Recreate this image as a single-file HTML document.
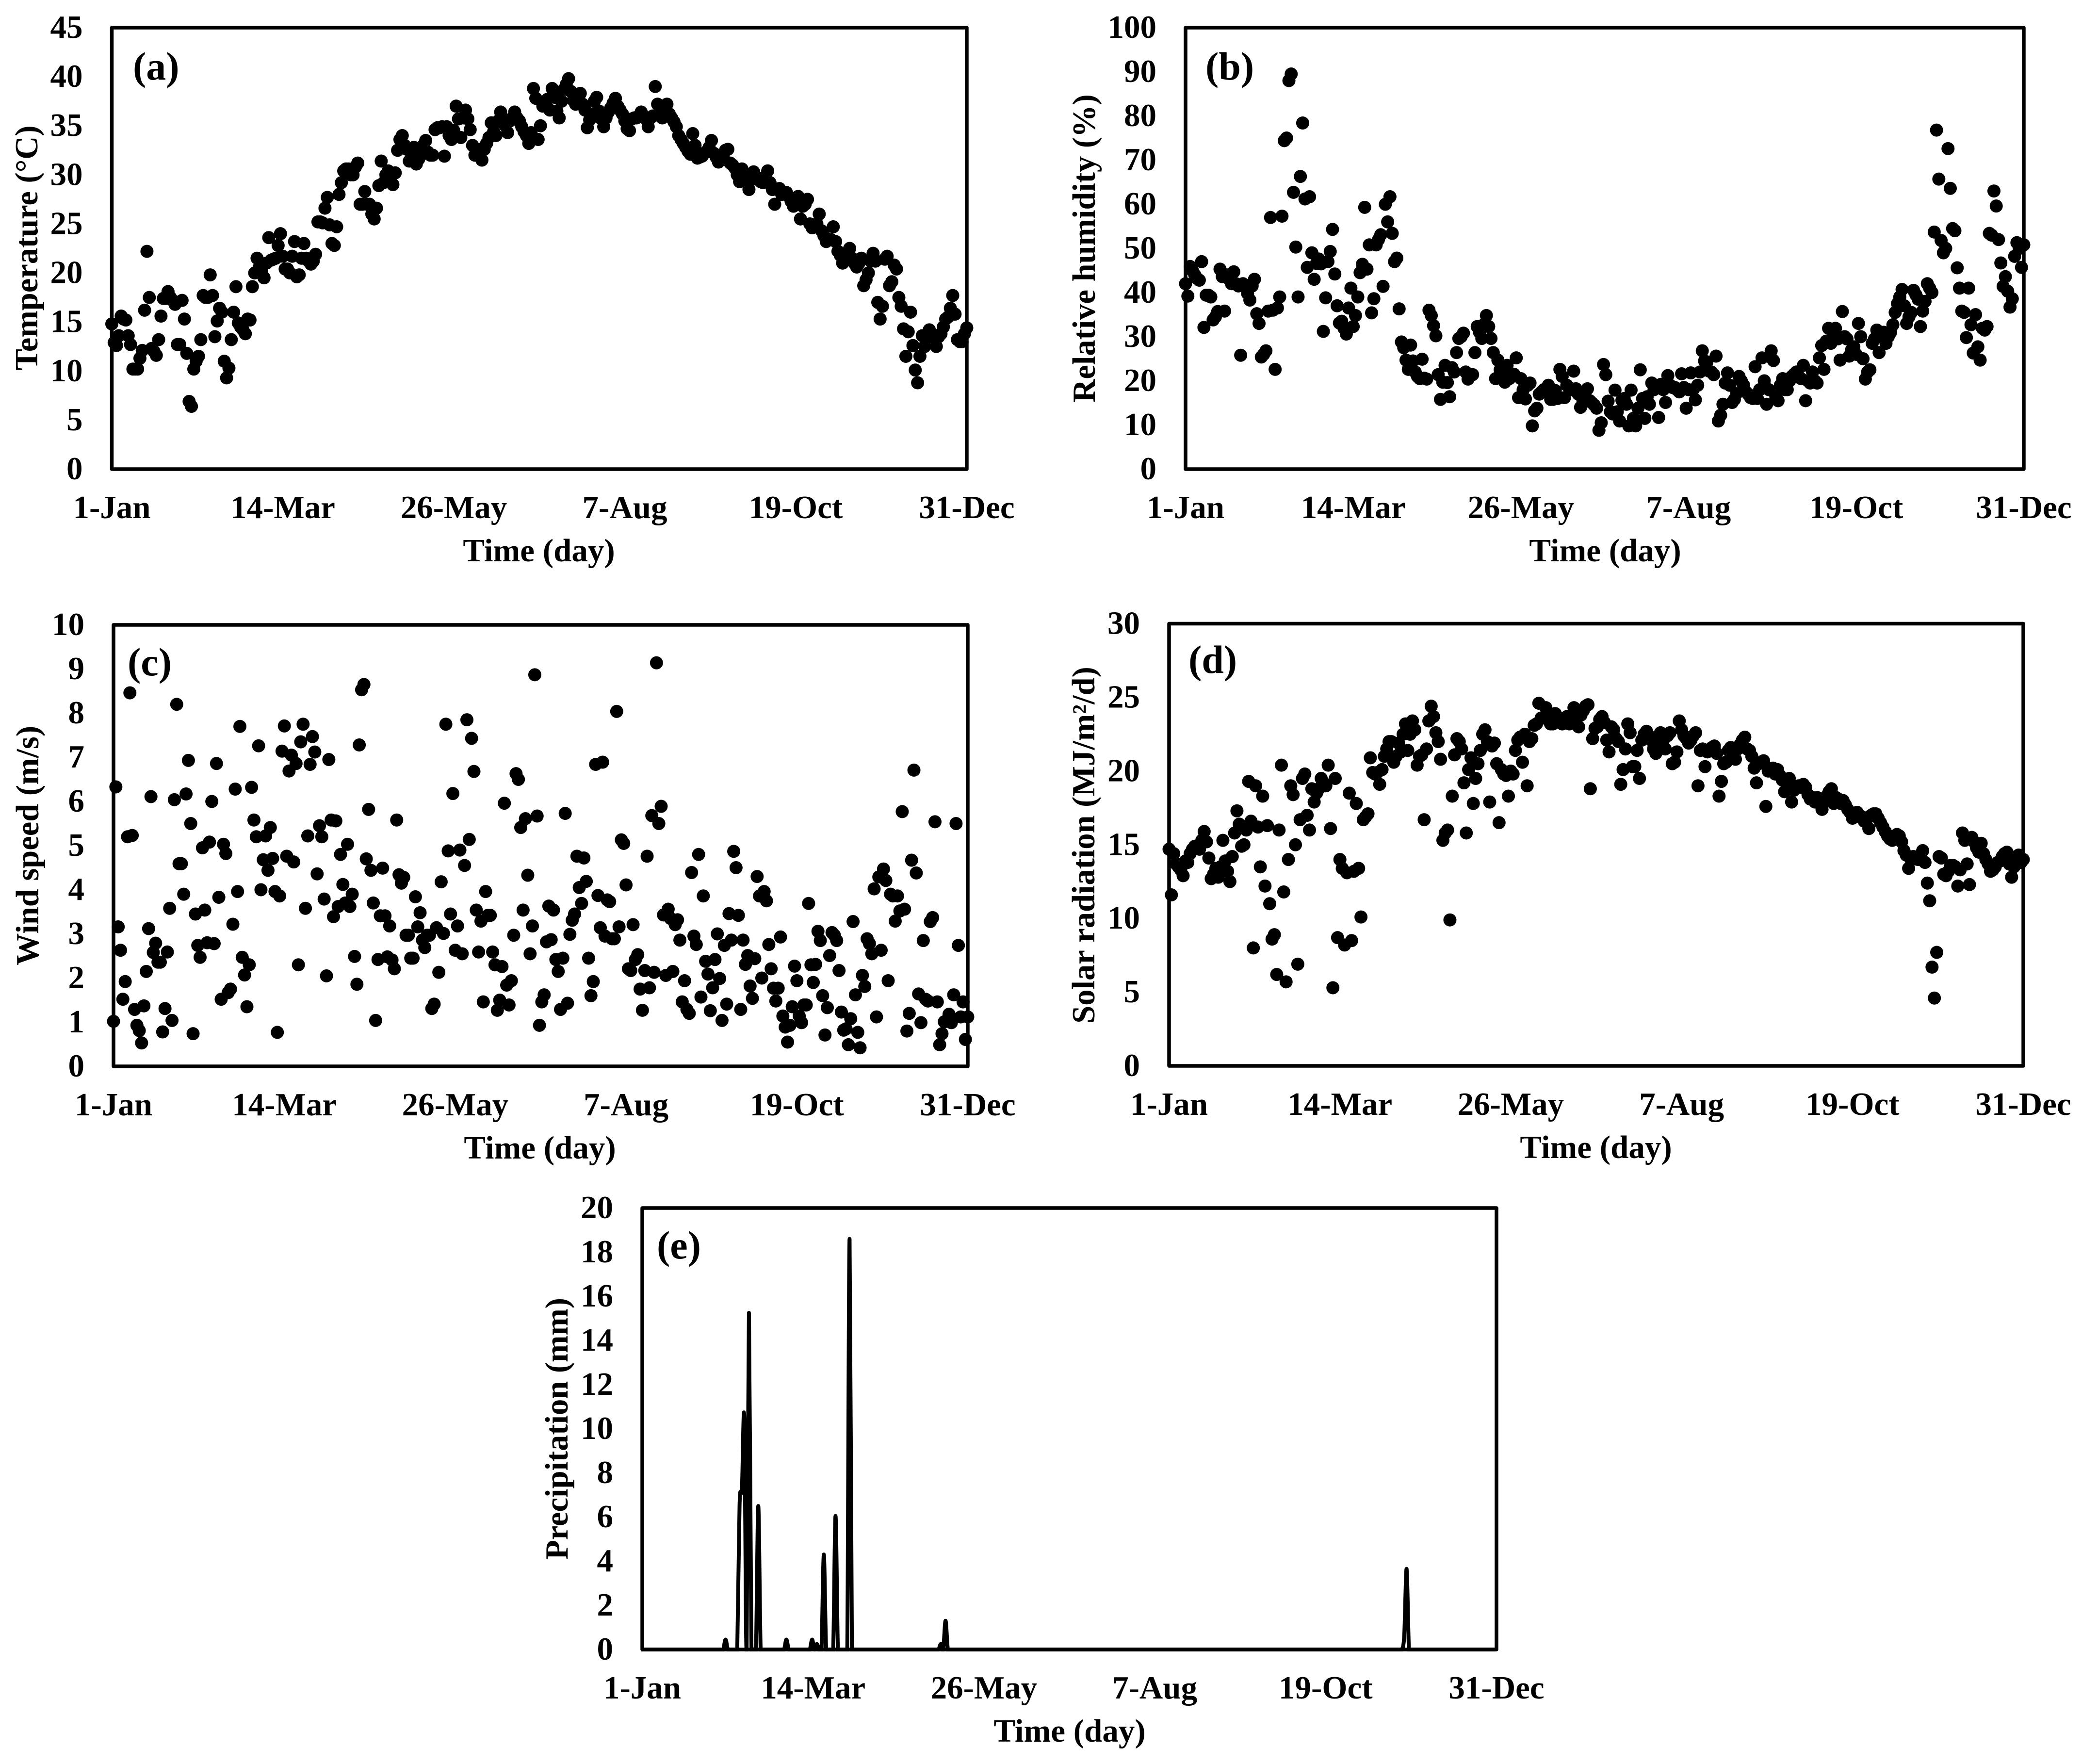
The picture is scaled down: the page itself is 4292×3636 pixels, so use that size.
<!DOCTYPE html>
<html lang="en">
<head>
<meta charset="utf-8">
<title>Daily weather charts</title>
<style>
html,body{margin:0;padding:0;background:#fff;}
svg{display:block;}
text{font-family:"Liberation Serif",serif;font-weight:bold;fill:#000;font-size:67px;}
.frame{fill:none;stroke:#000;stroke-width:7.5;stroke-linejoin:round;}
.panel-tag{font-size:82px;}
.x-title,.y-title,.x-tick{text-anchor:middle;}
.y-title{font-size:66.5px;}
.y-tick{text-anchor:end;}
</style>
</head>
<body>
<svg id="chart" xmlns="http://www.w3.org/2000/svg" width="4292" height="3636" viewBox="0 0 4292 3636">
  <rect x="0" y="0" width="4292" height="3636" fill="#fff"/>
  <defs>
    <clipPath id="precip-clip"><rect x="1320" y="2486" width="1769" height="918"/></clipPath>
  </defs>

  <g id="panel-a">
    <rect class="frame" x="230.5" y="57" width="1762.5" height="910"/>
    <text class="panel-tag" x="274" y="164">(a)</text>
    <text class="x-title" x="1111" y="1157">Time (day)</text>
    <text class="y-title" transform="translate(77 511) rotate(-90)">Temperature (°C)</text>
  </g>

  <g id="panel-b">
    <rect class="frame" x="2444" y="57" width="1728" height="910"/>
    <text class="panel-tag" x="2485" y="164">(b)</text>
    <text class="x-title" x="3309" y="1157">Time (day)</text>
    <text class="y-title" transform="translate(2257 512) rotate(-90)">Relative humidity (%)</text>
  </g>

  <g id="panel-c">
    <rect class="frame" x="234" y="1288" width="1761" height="910"/>
    <text class="panel-tag" x="263" y="1392">(c)</text>
    <text class="x-title" x="1113" y="2388">Time (day)</text>
    <text class="y-title" transform="translate(79 1743) rotate(-90)">Wind speed (m/s)</text>
  </g>

  <g id="panel-d">
    <rect class="frame" x="2410" y="1285.5" width="1761" height="911.5"/>
    <text class="panel-tag" x="2450" y="1387">(d)</text>
    <text class="x-title" x="3290" y="2387">Time (day)</text>
    <text class="y-title" transform="translate(2256 1742) rotate(-90)">Solar radiation (MJ/m²/d)</text>
  </g>

  <g id="panel-e">
    <rect class="frame" x="1324" y="2490" width="1761" height="910"/>
    <text class="panel-tag" x="1354" y="2594">(e)</text>
    <text class="x-title" x="2205" y="3590">Time (day)</text>
    <text class="y-title" transform="translate(1170 2945) rotate(-90)">Precipitation (mm)</text>
  </g>
</svg>

<script>
const dateLabels = ["1-Jan","14-Mar","26-May","7-Aug","19-Oct","31-Dec"];
const dateTickDays = [0,73,146,219,292,365];
const daysInAxis = 365;

const temperatureTicks = [0,5,10,15,20,25,30,35,40,45];
const humidityTicks = [0,10,20,30,40,50,60,70,80,90,100];
const windTicks = [0,1,2,3,4,5,6,7,8,9,10];
const solarTicks = [0,5,10,15,20,25,30];
const precipitationTicks = [0,2,4,6,8,10,12,14,16,18,20];

const temperatureValues = [
14.8,12.9,12.6,13.6,15.6,15.3,15.2,13.6,12.7,10.2,10.2,10.2,11.3,12.1,16.2,22.2,17.5,12.3,12.0,11.6,
13.2,15.6,17.4,17.4,18.1,17.5,17.2,16.8,12.7,12.7,17.2,15.3,11.8,6.9,6.4,10.2,11.0,11.5,13.2,17.7,
17.5,17.5,19.8,17.7,13.5,15.1,16.4,16.0,11,9.3,10.3,13.2,16,18.6,14.9,14.5,14.2,13.8,15.3,15.2,
18.6,20.0,21.5,20.6,20.3,19.5,21.0,23.6,21.3,21.4,21.5,22.8,24.0,21.7,20.4,20.4,20.0,21.7,23.2,19.6,
19.8,21.5,23.0,21.5,21.2,20.9,21.2,21.9,25.2,25.2,25.1,26.6,27.7,24.9,23,22.8,24.7,28,29.2,30.4,
30.6,30.6,30,30,30.8,31.2,27,27,28.3,27,27,26,25.5,26.6,28.9,31.4,29.2,30,30.4,29.6,
29,30.2,32.5,33.6,34,33,32.6,31.4,32.2,32.8,31.1,31.6,32,33,33.5,32.3,32,32,34.6,34.8,
34.8,34.9,31.9,34.9,34,33.6,34.5,37,35.7,33.8,35.8,36.6,35.7,34.6,33,32,32.2,32.6,31.5,32.6,
33.2,33.8,35.3,34.4,34,35.5,36.4,35.7,35,34.3,35.5,35.8,36.4,35.8,35.5,34.9,34.4,34,33.2,34.3,
38.8,37.8,33.6,35,37,37.4,37.7,36.6,38.8,37.9,36.5,35.8,37.5,38.7,39.2,39.8,38.5,37.6,37.2,37.6,
38.3,37.2,36.6,34.8,35.6,36.2,37.5,37.9,36.5,35.7,34.9,35.8,36.4,36.8,37.3,37.8,37,36.6,36.2,35.5,
34.7,34.5,35.7,35.8,35.8,36,36.4,36,35.7,34.9,35.8,36,39,37.2,36,35.8,36.4,37.2,36.2,35.8,
35.4,34.9,34,33.6,33.2,32.8,32.4,32.1,34.2,33,31.7,31.8,31.9,32.2,32.4,32.8,33.5,32.2,31.8,31.3,
31.6,31.9,32.5,32.6,31.2,31,30.7,30,29.3,30.6,30,29.3,28.5,29.5,30.3,29.8,29.6,29.3,29.2,29.8,
30.4,29.2,28.5,27,28.5,28.6,28,28.2,28.2,27.8,27.3,26.8,27.6,27.8,25.5,26.8,27,27.5,25,24.6,
24.7,25,26,24.3,23.8,23.2,23.4,23.4,24.7,23.2,22.2,21.8,21,21.6,22,22.5,21.5,21,20.6,21,
21.5,18.7,19.3,20,21.2,22,21.2,17,15.3,16.6,21.4,21.7,18.7,19.1,20.8,20.4,17.5,16.6,14.3,11.5,
14,16,12.6,10.1,8.8,11.5,13.6,12.5,13.4,14.2,13.6,13.4,12.5,13.5,13.8,14.5,15.3,15.5,16.4,17.7,
15.8,13.2,13,13,13.8,14.4
];

const humidityValues = [
42,39.2,45.9,45,44,43.2,42.8,47,32.1,39.4,39.4,39,33.8,34.5,35.7,45.3,43.6,35.8,44,43,
42,44.7,42,41.5,25.8,42,41.5,39.8,38.3,41.5,43,35.2,33,25.4,26,26.8,35.8,57,36,22.6,
36.5,39,57.3,74.4,75,88,89.5,62.7,50.3,39,66.3,78.4,61.2,45.7,61.7,49,43,46.6,47.6,46.5,
31.2,38.8,47,49.3,54.3,44.2,37,33.1,33.5,31.9,30.6,36.5,41,32.3,34.8,39,44.5,46.4,59.3,45.3,
50.8,35.4,38.6,50.8,52,53.1,41.4,60,56,61.7,53.4,47,47.8,36.3,28.8,27.5,24.7,22.6,28.1,24.5,
22,21,20.5,24.9,20.6,20.4,36,34.8,32.5,30.2,21.4,15.8,19.7,23.5,19.6,16.4,23,22,26.4,29.6,
30,30.8,22,20.4,21.4,21.4,26.4,32.3,31,29.6,32.8,34.8,32.3,29.6,26.4,20.5,24.7,22.5,22,19.7,
23.5,20.5,21.5,21.5,25.2,16.2,20.5,18,15.9,19,19.5,9.8,13.2,13.8,17,17.5,18,18.3,19,15.8,
15.8,17.8,16,22.6,21,16.2,19,18.5,18,22.2,18.2,17,14,15.6,17.5,18.2,15.5,15,14.5,13.8,
8.8,10.5,23.7,21.4,15.4,13,12.5,17.9,13,10.9,15.6,16,14.7,9.8,17.9,11.5,9.8,13.8,22.5,16,
11.5,16.4,14.7,19.5,18,18.5,11.7,19.2,18,15.1,21.2,19,18.5,18.5,18,17.5,21.6,18.5,13.8,18,
21.8,18,15.7,19,22,26.8,24.5,24.3,22.2,22,21.4,25.6,10.9,12.2,14.7,19.5,21.8,19,15.1,15.8,
17.2,21,20,19,17.5,17,16.2,16,23.2,16,18,25.2,20,14.7,18,26.8,24.6,16.5,15.5,19,
20.5,18,18,20,21,21.5,22,21,20.5,23.5,15.5,20,19.5,22,20,19.5,25.2,28,22.6,29,
31.9,28.5,30,31.9,29.5,24.7,35.7,30,29.5,25.6,27,27.7,26,33,30,25,20.4,22,22.5,28.5,
29.5,31.5,26.4,30,31,28.5,30,31,32.7,35.5,37.5,39,40.7,37,33,34.5,35.5,40.5,39.5,38.5,
32.3,35.8,38,42,41,40,53.7,76.8,65.7,51.8,49,50,72.6,63.6,54.5,54,45.6,41,35.8,35.5,
29.8,41,32.7,26.3,35,27.7,24.7,31.9,31.5,32.3,53.4,53,63,59.6,52,46.7,41.4,43.6,40.3,36.7,
38.6,48.2,51.3,50,45.7,50.8
];

const windValues = [
1.02,6.33,3.16,2.63,1.52,1.92,5.2,8.46,5.23,1.29,.93,.81,.53,1.37,2.15,3.12,6.11,2.58,2.79,2.36,
2.36,.78,1.31,2.59,3.58,1.04,6.04,8.2,4.59,4.59,3.9,6.17,6.93,5.5,.74,3.45,2.74,2.47,4.95,3.54,
2.8,5.08,6,2.78,6.86,3.83,1.52,5.03,4.82,1.67,1.75,3.22,6.28,3.96,7.7,2.47,2.07,1.35,2.3,6.32,
5.58,5.2,7.26,4.0,4.68,5.22,4.44,5.41,4.71,3.96,.77,3.86,7.14,7.71,4.76,6.69,7.05,4.63,6.86,2.3,
7.35,7.75,3.58,5.22,6.84,7.47,7.12,4.36,5.45,5.2,3.79,2.05,6.95,5.58,3.39,5.56,3.62,4.8,4.12,3.7,
5.03,3.62,3.9,2.49,1.86,7.28,8.53,8.65,4.7,5.82,4.44,3.7,1.04,2.42,3.41,4.49,3.41,2.48,3.18,2.41,
2.21,5.58,4.34,4.15,4.28,2.97,2.97,2.45,2.45,3.84,3.16,3.48,2.86,2.69,2.97,2.97,1.31,1.41,3.14,2.13,
4.18,3.01,7.75,4.88,3.45,6.18,2.63,3.18,4.9,2.55,4.55,7.85,5.14,7.43,6.68,3.54,2.59,3.29,1.46,3.96,
3.42,3.42,2.59,2.3,1.27,1.5,2.26,5.96,1.84,1.39,1.94,2.97,6.63,6.5,5.41,3.54,5.61,4.33,2.55,3.18,
8.87,5.67,.93,1.46,1.62,2.82,3.63,2.87,3.54,2.42,2.15,1.29,2.45,5.73,1.43,2.99,3.31,3.45,4.76,4.05,
3.69,4.72,4.19,2.45,1.6,1.92,6.84,3.87,3.14,6.89,2.95,3.77,3.73,2.89,2.89,8.04,3.16,5.13,5.05,4.11,
2.21,2.17,3.21,2.42,2.53,1.75,1.27,2.17,4.76,1.78,5.68,2.13,9.14,5.5,5.89,3.43,2.06,3.56,3.35,2.15,
3.21,3.32,2.86,1.46,1.94,1.29,1.2,4.39,2.95,2.76,4.8,1.57,3.86,2.38,2.09,1.26,1.78,2.42,3,1.99,
1.04,2.74,1.41,3.46,2.86,4.87,4.5,3.42,1.29,2.86,2.31,2.51,1.82,1.54,2.44,4.3,3.86,2,3.96,3.75,
2.76,2.21,1.77,1.48,1.77,2.93,1.14,.89,.55,.93,1.35,2.27,1.94,1.14,.99,1.39,1.39,3.69,2.3,1.9,
2.31,3.06,2.85,1.6,.71,1.33,2.51,3.03,2.97,2.85,2.17,1.23,.82,.85,.49,1.08,3.28,1.62,.77,.42,
2.06,1.81,2.89,2.78,2.55,4.02,1.12,4.29,2.63,4.47,4.21,1.94,3.9,3.86,3.29,3.86,3.52,5.77,3.56,.8,
1.2,4.67,6.71,4.38,1.64,.99,2.85,1.52,1.48,3.28,3.37,5.54,1.46,.49,.74,1.01,1.04,1.18,.99,1.62,
5.5,2.74,1.12,1.46,.61,1.12
];

const solarValues = [
14.7,11.6,14.4,13.7,13.5,13.3,12.9,13.9,13.8,14.4,14.7,14.9,14.9,14.7,15.3,15.9,15.2,14.1,12.7,13,
13.4,12.8,13.5,15.3,13.9,13.2,12.5,14.2,15.8,17.3,16.4,14.9,15,16,19.3,16.6,8,19,16.2,13.5,
18.3,12.2,16.3,11,8.6,8.9,6.2,16,20.4,11.8,5.7,14,19,18.4,15,6.9,16.7,19.5,19.8,17,
16,18.8,17.9,18.5,18.8,19.5,19.2,19,20.4,16.1,5.3,19.5,8.7,14,13.4,8.2,13.1,18.5,8.5,13.2,
17.8,13.4,10.1,16.7,16.9,17.1,20.9,19.9,19.8,19.9,19.1,20.1,21,21.5,22,22,20.6,21,21.9,21.3,
22.5,23.2,21.4,22.5,23.4,22.8,20.4,21,21.1,16.7,21.5,23.4,24.4,23.7,22.6,22,20.8,15.3,15.8,16,
9.9,18.3,21.1,22.2,22,21.5,19.2,15.8,20.1,20.9,17.8,19.5,20.5,21.4,22.5,22.8,22,17.9,21.7,21.9,
20.5,16.5,20.1,19.8,19.7,18.3,20,19.8,21.4,22.1,22.3,20.6,22.5,19,22,22.2,23.1,23.2,24.6,23.6,
23.6,24.3,23.5,23.2,23.2,23.9,23.6,23.3,23.2,23.6,23.7,23.2,23.5,24.3,23.5,23,23.8,24.1,24.4,24.5,
18.8,22.2,22.9,23,23.5,23.7,23.3,22.1,21.3,23,22.8,22.2,22,19.1,20.1,21.5,23.2,22.6,20.3,20.3,
21.4,19.5,22.1,22.5,22.7,22.4,22.1,21.5,21.2,22.2,22.6,22,21.5,22.4,22.6,20.5,20.6,21.3,23.4,22.8,
22.4,22.2,21.9,22.1,22.4,22.6,19,21.4,21.5,20.3,21.3,21.4,21.6,21.7,21.2,18.3,19.3,20.5,20.6,21.4,
21.6,21.2,20.8,21.5,21.8,22.1,22.3,21.5,21.4,21,20.2,19.2,20.5,20.6,20.7,17.6,20,20.1,20.2,19.8,
20.1,19.7,19.4,18.6,19.3,19.5,17.9,18.7,18.9,19,18.9,19.1,18.9,18.4,18.1,18.2,17.9,18.2,18,17.4,
18,18.3,18.6,18.8,17.8,18.2,18.1,17.8,18,17.7,17.4,17.2,16.8,16.9,17.2,17,16.9,16.6,16.7,16.1,
17,17.1,17.1,16.8,16.5,16.2,15.9,15.6,15.4,15.3,15.6,15.7,15.6,15.2,14.6,14.3,13.4,14,14.2,14.1,
14,14.3,14.6,13.8,12.4,11.2,6.7,4.6,7.7,14.2,14.1,13,12.9,13.2,13.6,13.6,13.5,12.2,13.3,15.8,
15.3,13.7,12.3,15.5,15.2,14.8,14.5,15.1,14.4,14,13.7,13.2,13.3,13.5,13.8,13.9,14.2,14.4,14.5,13.7,
12.8,13.5,14.2,14.3,13.8,14
];

const rainDays = [36,42,43,44,46,47,50,62,73,75,78,83,89,128,130,326,327];
const rainAmounts = [0.45,6.55,7.3,10.5,15.25,0.6,6.5,0.45,0.45,0.25,4.3,6.05,18.6,0.25,1.3,0.65,3.65];

const svgNS = "http://www.w3.org/2000/svg";
const dotRadius = 13.5;

function makeXScale(left, right) {
  return function (day) { return left + day / daysInAxis * (right - left); };
}
function makeYScale(maxValue, top, bottom) {
  return function (value) { return bottom - value / maxValue * (bottom - top); };
}

function drawXTicks(groupId, xScale, bottom) {
  const group = document.getElementById(groupId);
  dateLabels.forEach(function (label, i) {
    const el = document.createElementNS(svgNS, "text");
    el.setAttribute("class", "x-tick");
    el.setAttribute("x", xScale(dateTickDays[i]));
    el.setAttribute("y", bottom + 101);
    
    
    el.textContent = label;
    group.appendChild(el);
  });
}

function drawYTicks(groupId, ticks, yScale, left) {
  const group = document.getElementById(groupId);
  ticks.forEach(function (tick) {
    const el = document.createElementNS(svgNS, "text");
    el.setAttribute("class", "y-tick");
    el.setAttribute("x", left - 60);
    el.setAttribute("y", yScale(tick) + 21);
    
    
    el.textContent = String(tick);
    group.appendChild(el);
  });
}

function drawDots(groupId, values, xScale, yScale) {
  const group = document.getElementById(groupId);
  values.forEach(function (value, day) {
    const el = document.createElementNS(svgNS, "circle");
    el.setAttribute("cx", xScale(day));
    el.setAttribute("cy", yScale(value));
    el.setAttribute("r", dotRadius);
    el.setAttribute("fill", "#000");
    
    
    group.appendChild(el);
  });
}

function scatterPanel(groupId, values, ticks, left, right, top, bottom) {
  const xScale = makeXScale(left, right);
  const yScale = makeYScale(ticks[ticks.length - 1], top, bottom);
  drawYTicks(groupId, ticks, yScale, left);
  drawXTicks(groupId, xScale, bottom);
  drawDots(groupId, values, xScale, yScale);
}

scatterPanel("panel-a", temperatureValues, temperatureTicks, 230.5, 1993, 57, 967);
scatterPanel("panel-b", humidityValues, humidityTicks, 2444, 4172, 57, 967);
scatterPanel("panel-c", windValues, windTicks, 234, 1995, 1288, 2198);
scatterPanel("panel-d", solarValues, solarTicks, 2410, 4171, 1285.5, 2197);

(function drawPrecipitation() {
  const tickX = makeXScale(1324, 3085);
  const xScale = makeXScale(1322, 3083);
  const yScale = makeYScale(precipitationTicks[precipitationTicks.length - 1], 2490, 3400);
  drawYTicks("panel-e", precipitationTicks, yScale, 1324);
  drawXTicks("panel-e", tickX, 3400);

  const daily = [];
  for (let d = 0; d <= daysInAxis; d++) daily.push(0);
  rainDays.forEach(function (day, i) { daily[day] = rainAmounts[i]; });

  const px = daily.map(function (v, d) { return [xScale(d), yScale(v)]; });
  let path = "M" + px[0][0].toFixed(1) + " " + px[0][1].toFixed(1);
  for (let i = 0; i < px.length - 1; i++) {
    const p0 = px[Math.max(0, i - 1)], p1 = px[i], p2 = px[i + 1], p3 = px[Math.min(px.length - 1, i + 2)];
    const c1x = p1[0] + (p2[0] - p0[0]) / 6, c1y = p1[1] + (p2[1] - p0[1]) / 6;
    const c2x = p2[0] - (p3[0] - p1[0]) / 6, c2y = p2[1] - (p3[1] - p1[1]) / 6;
    path += "C" + c1x.toFixed(1) + " " + c1y.toFixed(1) + " " + c2x.toFixed(1) + " " + c2y.toFixed(1) + " " + p2[0].toFixed(1) + " " + p2[1].toFixed(1);
  }
  const line = document.createElementNS(svgNS, "path");
  line.setAttribute("d", path);
  line.setAttribute("fill", "none");
  line.setAttribute("stroke", "#000");
  line.setAttribute("stroke-width", "8");
  line.setAttribute("stroke-linejoin", "round");
  line.setAttribute("clip-path", "url(#precip-clip)");
  
  
  document.getElementById("panel-e").appendChild(line);
})();
</script>
</body>
</html>
